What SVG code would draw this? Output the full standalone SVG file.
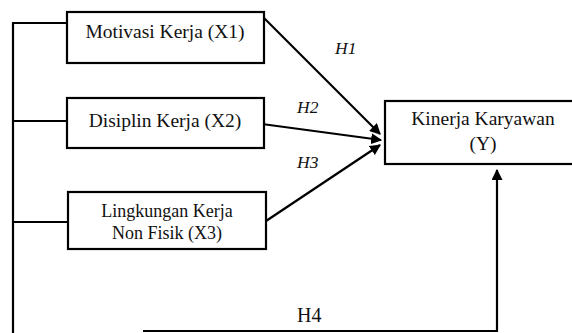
<svg xmlns="http://www.w3.org/2000/svg" width="572" height="333" viewBox="0 0 572 333">
<style>
.box{fill:#fff;stroke:#000;stroke-width:2.2}
.ln{fill:none;stroke:#000;stroke-width:2.2}
text{font-family:'Liberation Serif','Times New Roman','DejaVu Serif',serif;fill:#111}
.t{font-size:19.5px}
.s{font-size:18px}
.h{font-size:17.5px;font-style:italic}
</style>
<defs>
<marker id="ah" viewBox="0 0 10 10" refX="9" refY="5" markerWidth="5" markerHeight="5" markerUnits="strokeWidth" orient="auto">
<path d="M0,0 L10,5 L0,10 z" fill="#000"/>
</marker>
</defs>
<g id="connectors">
<path class="ln" d="M13,23 V333"/>
<path class="ln" d="M12,23 H67"/>
<path class="ln" d="M13,121 H67"/>
<path class="ln" d="M13,222 H68"/>
<path class="ln" d="M264,18 L380,134" marker-end="url(#ah)"/>
<path class="ln" d="M262,124 L381,140" marker-end="url(#ah)"/>
<path class="ln" d="M266,221 L380,145" marker-end="url(#ah)"/>
<path class="ln" d="M143,331 H497 V170" marker-end="url(#ah)"/>
<text class="h" x="335" y="54">H1</text>
<text class="h" x="297" y="113">H2</text>
<text class="h" x="297" y="168">H3</text>
<text x="297" y="322" style="font-size:20px">H4</text>
</g>
<g id="x1">
<rect class="box" x="67" y="12" width="197" height="51"/>
<text class="t" x="165" y="38" text-anchor="middle">Motivasi Kerja (X1)</text>
</g>
<g id="x2">
<rect class="box" x="67" y="98" width="197" height="50"/>
<text class="t" x="165" y="127" text-anchor="middle">Disiplin Kerja (X2)</text>
</g>
<g id="x3">
<rect class="box" x="68" y="192" width="198" height="57"/>
<text class="s" x="167" y="217" text-anchor="middle">Lingkungan Kerja</text>
<text class="s" x="167" y="239" text-anchor="middle">Non Fisik (X3)</text>
</g>
<g id="y">
<rect class="box" x="385" y="101" width="200" height="63"/>
<text class="t" x="483" y="125" text-anchor="middle">Kinerja Karyawan</text>
<text class="t" x="483" y="150" text-anchor="middle">(Y)</text>
</g>
</svg>
